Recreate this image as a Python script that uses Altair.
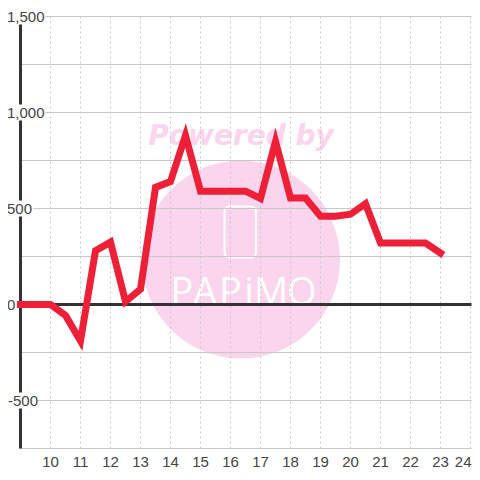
import altair as alt
import pandas as pd

hours = [9, 9.5, 10, 10.5, 11, 11.5, 12, 12.5, 13, 13.5, 14, 14.5, 15, 15.5, 16, 16.5, 17, 17.5, 18, 18.5, 19, 19.5, 20, 20.5, 21, 21.5, 22, 22.5, 23]
values = [0, 0, 0, -57, -190, 280, 325, 15, 80, 610, 640, 880, 590, 590, 590, 590, 552, 850, 555, 555, 460, 460, 470, 525, 320, 320, 320, 320, 268]
y_labels = ["1,500", "1,000", "500", "0"]
y_label_values = [1500, 1000, 500, 0]
backing_values = [1500, 1000, 500, 0, -500]
backing_right = [25, 25, 13, -3, 17]
x_ticks = list(range(10, 25))
y_grid = [-750, -500, -250, 250, 500, 750, 1000, 1250, 1500]
brand_letters = list("PAPiMO")
brand_x = [14.38, 15.15, 16.0, 16.62, 17.35, 18.38]

PX = 451
PY = 432
XD = [9, 9 + PX / 30]
YD = [-750, 1500]
xs = alt.Scale(domain=XD, nice=False, zero=False)
ys = alt.Scale(domain=YD, nice=False, zero=False)
X = alt.X("x:Q", scale=xs, axis=None)
Y = alt.Y("y:Q", scale=ys, axis=None)
GRID = "#c8c8c8"
INK = "#333333"
PINK = "#fbd5ee"
FONT = "Liberation Sans"
LABEL = "#444444"

circle = alt.Chart(pd.DataFrame({"x": [16.35], "y": [234]})).mark_circle(size=39204, color=PINK, opacity=1).encode(x=X, y=Y)
powered = alt.Chart(pd.DataFrame({"x": [16.35], "y": [833], "t": ["Powered by"]})).mark_text(
    font="DejaVu Sans", fontSize=28, fontStyle="italic", fontWeight="bold", color=PINK, baseline="alphabetic"
).encode(x=X, y=Y, text="t:N")
phone = alt.Chart(pd.DataFrame({"x": [15.8], "x2": [16.85], "y": [245], "y2": [510]})).mark_rect(
    fillOpacity=0, stroke="white", strokeWidth=2, cornerRadius=5
).encode(x=X, x2="x2:Q", y=Y, y2="y2:Q")
brand = alt.Chart(pd.DataFrame({"x": brand_x, "y": [-5] * 6, "t": brand_letters})).mark_text(
    font="Open Sans", fontSize=38, fontWeight=400, color="white", baseline="alphabetic"
).encode(x=X, y=Y, text="t:N")

ygrid = alt.Chart(pd.DataFrame({"y": y_grid})).mark_rule(color=GRID, strokeWidth=1).encode(
    y=Y, x=alt.value(0), x2=alt.value(PX))
xgrid = alt.Chart(pd.DataFrame({"x": x_ticks})).mark_rule(color=GRID, strokeWidth=1, strokeDash=[2, 3]).encode(
    x=X, y=alt.value(0), y2=alt.value(PY))
yaxis = alt.Chart(pd.DataFrame({"x": [9]})).mark_rule(color=INK, strokeWidth=3).encode(
    x=X, y=alt.value(0), y2=alt.value(PY))

layers = [circle, powered, phone, brand, ygrid, xgrid, yaxis]
for v, r in zip(backing_values, backing_right):
    layers.append(alt.Chart(pd.DataFrame({"y": [v]})).mark_rule(color="white", strokeWidth=16).encode(
        y=Y, x=alt.value(-13), x2=alt.value(r)))
zero = alt.Chart(pd.DataFrame({"y": [0]})).mark_rule(color=INK, strokeWidth=3).encode(
    y=Y, x=alt.value(0), x2=alt.value(PX))
ylab = alt.Chart(pd.DataFrame({"y": y_label_values, "t": y_labels})).mark_text(
    font=FONT, fontSize=15, color=LABEL, align="left", baseline="middle"
).encode(y=Y, x=alt.value(-13.5), text="t:N")
ylab_neg = alt.Chart(pd.DataFrame({"y": [-500], "t": ["-500"]})).mark_text(
    font=FONT, fontSize=15, color=LABEL, align="left", baseline="middle"
).encode(y=Y, x=alt.value(-12.5), text="t:N")
xlab = alt.Chart(pd.DataFrame({"x": x_ticks[:-1], "t": [str(v) for v in x_ticks[:-1]]})).mark_text(
    font=FONT, fontSize=15, color=LABEL, align="center", baseline="middle"
).encode(x=X, y=alt.value(PY + 13), text="t:N")
xlab_last = alt.Chart(pd.DataFrame({"x": x_ticks[-1:], "t": [str(x_ticks[-1])]})).mark_text(
    font=FONT, fontSize=15, color=LABEL, align="right", baseline="middle", dx=1
).encode(x=X, y=alt.value(PY + 13), text="t:N")
line = alt.Chart(pd.DataFrame({"x": hours, "y": values})).mark_line(
    color="#ee2038", strokeWidth=7, strokeCap="square", strokeJoin="miter"
).encode(x=X, y=Y, order="x:Q")
layers += [zero, ylab, ylab_neg, xlab, xlab_last, line]

chart = alt.layer(*layers).properties(
    width=PX, height=PY, padding={"left": 12.5, "top": 8.5, "right": 0, "bottom": 20},
    autosize=alt.AutoSizeParams(type="none"), background="white",
).configure_view(stroke=None)

chart.save("out.html", embed_options={"renderer": "svg", "actions": False})
